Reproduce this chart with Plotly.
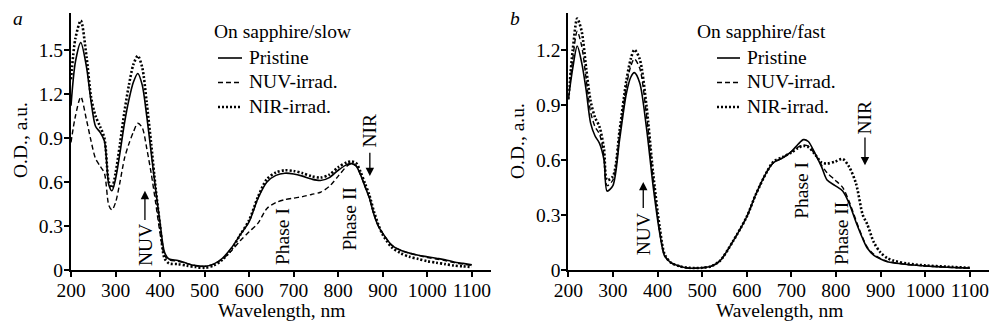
import plotly.graph_objects as go

# ---------------- data: panel a (On sapphire/slow) ----------------
wl_a = [200, 210, 222, 235, 245, 255, 265, 275, 285, 292, 300, 310, 320, 330, 340, 350, 360, 370, 380, 390,
        400, 410, 420, 440, 460, 480, 500, 520, 540, 560, 580, 600, 620, 640, 660, 680, 700, 720, 740, 760,
        780, 800, 820, 830, 840, 850, 860, 870, 880, 890, 900, 920, 940, 960, 980, 1000, 1020, 1040, 1060, 1080, 1100]
pristine_a = [1.12, 1.42, 1.55, 1.38, 1.15, 0.98, 0.94, 0.88, 0.58, 0.54, 0.62, 0.80, 1.00, 1.16, 1.28, 1.34, 1.26, 1.05, 0.80, 0.55,
              0.32, 0.12, 0.075, 0.065, 0.045, 0.03, 0.025, 0.04, 0.08, 0.15, 0.24, 0.33, 0.49, 0.60, 0.645, 0.66, 0.655, 0.64, 0.62, 0.61,
              0.63, 0.68, 0.72, 0.725, 0.71, 0.65, 0.57, 0.49, 0.38, 0.30, 0.25, 0.17, 0.135, 0.115, 0.10, 0.09, 0.08, 0.07, 0.055, 0.045, 0.035]
nuv_a = [0.87, 1.05, 1.18, 1.02, 0.88, 0.76, 0.71, 0.66, 0.44, 0.41, 0.46, 0.60, 0.76, 0.86, 0.94, 1.00, 0.97, 0.83, 0.66, 0.46,
         0.25, 0.10, 0.07, 0.06, 0.045, 0.03, 0.025, 0.04, 0.075, 0.13, 0.20, 0.26, 0.32, 0.42, 0.46, 0.48, 0.49, 0.50, 0.515, 0.53,
         0.57, 0.64, 0.71, 0.725, 0.71, 0.65, 0.57, 0.49, 0.38, 0.30, 0.25, 0.17, 0.135, 0.115, 0.10, 0.085, 0.075, 0.065, 0.05, 0.04, 0.03]
nir_a = [1.30, 1.58, 1.70, 1.45, 1.18, 1.05, 0.98, 0.90, 0.60, 0.56, 0.66, 0.86, 1.08, 1.26, 1.40, 1.46, 1.38, 1.14, 0.86, 0.56,
         0.30, 0.08, 0.045, 0.04, 0.03, 0.02, 0.015, 0.03, 0.07, 0.14, 0.24, 0.34, 0.50, 0.62, 0.665, 0.68, 0.675, 0.66, 0.64, 0.63,
         0.65, 0.70, 0.735, 0.74, 0.73, 0.67, 0.59, 0.51, 0.40, 0.31, 0.24, 0.155, 0.115, 0.09, 0.075, 0.06, 0.05, 0.04, 0.03, 0.025, 0.02]

# ---------------- data: panel b (On sapphire/fast) ----------------
wl_b = [200, 210, 220, 230, 240, 250, 260, 270, 280, 287, 300, 315, 330, 340, 348, 360, 375, 390, 405, 416,
        430, 450, 470, 500, 520, 540, 570, 600, 620, 645, 660, 680, 700, 715, 727, 738, 753, 768, 780, 798,
        815, 830, 845, 860, 870, 885, 900, 915, 930, 960, 1000, 1050, 1100]
pristine_b = [0.93, 1.10, 1.22, 1.13, 0.98, 0.80, 0.73, 0.69, 0.60, 0.43, 0.46, 0.71, 0.96, 1.05, 1.075, 1.02, 0.78, 0.46, 0.20, 0.075,
              0.04, 0.02, 0.01, 0.012, 0.02, 0.05, 0.16, 0.29, 0.41, 0.535, 0.585, 0.61, 0.645, 0.685, 0.71, 0.70, 0.635, 0.56, 0.49, 0.46,
              0.43, 0.36, 0.26, 0.17, 0.12, 0.08, 0.06, 0.045, 0.038, 0.03, 0.022, 0.015, 0.01]
nuv_b = [0.93, 1.15, 1.30, 1.22, 1.04, 0.86, 0.78, 0.74, 0.62, 0.46, 0.49, 0.74, 1.00, 1.11, 1.15, 1.10, 0.85, 0.50, 0.21, 0.08,
         0.04, 0.02, 0.01, 0.012, 0.02, 0.05, 0.16, 0.29, 0.41, 0.535, 0.585, 0.61, 0.645, 0.67, 0.68, 0.675, 0.63, 0.57, 0.53, 0.49,
         0.45, 0.37, 0.27, 0.175, 0.125, 0.085, 0.062, 0.047, 0.04, 0.03, 0.022, 0.015, 0.01]
nir_b = [0.93, 1.20, 1.37, 1.30, 1.10, 0.92, 0.83, 0.78, 0.66, 0.49, 0.51, 0.76, 1.03, 1.15, 1.20, 1.15, 0.90, 0.53, 0.23, 0.085,
         0.04, 0.02, 0.012, 0.012, 0.02, 0.05, 0.16, 0.29, 0.41, 0.535, 0.59, 0.615, 0.64, 0.665, 0.676, 0.67, 0.63, 0.585, 0.58, 0.59,
         0.605, 0.56, 0.47, 0.30, 0.25, 0.15, 0.095, 0.065, 0.05, 0.035, 0.025, 0.018, 0.012]

series_names = ["Pristine", "NUV-irrad.", "NIR-irrad."]
x_ticks = [200, 300, 400, 500, 600, 700, 800, 900, 1000, 1100]
y_ticks_a = [0, 0.3, 0.6, 0.9, 1.2, 1.5]
y_ticks_b = [0, 0.3, 0.6, 0.9, 1.2]
y_labels_a = ["0", "0.3", "0.6", "0.9", "1.2", "1.5"]
y_labels_b = ["0", "0.3", "0.6", "0.9", "1.2"]
titles = ["On sapphire/slow", "On sapphire/fast"]

FONT = "Liberation Serif"
FS = 19.5
W, H = 1000, 326

styles = {
    "Pristine": dict(dash="solid", width=1.6),
    "NUV-irrad.": dict(dash="5px,3px", width=1.4),
    "NIR-irrad.": dict(dash="2px,2px", width=2.6),
}

fig = go.Figure()
panels = [
    ("x", "y", wl_a, [pristine_a, nuv_a, nir_a]),
    ("x2", "y2", wl_b, [pristine_b, nuv_b, nir_b]),
]
for xa, ya, wl, ys in panels:
    for name, y in zip(series_names, ys):
        fig.add_trace(go.Scatter(
            x=wl, y=y, mode="lines", name=name, xaxis=xa, yaxis=ya, showlegend=False,
            line=dict(color="black", shape="spline", smoothing=0.8, **styles[name]),
            hoverinfo="skip"))

def px_x(p):
    return p / W

def px_y(p):
    return 1 - p / H

y_dom = [px_y(270), px_y(13)]
axis_common = dict(showline=True, linecolor="black", linewidth=2, ticks="outside", ticklen=5,
                   tickwidth=1.5, tickcolor="black", showgrid=False, zeroline=False, automargin=False,
                   tickfont=dict(family=FONT, size=FS, color="black"))

fig.update_layout(
    width=W, height=H, margin=dict(l=0, r=0, t=0, b=0, autoexpand=False),
    paper_bgcolor="white", plot_bgcolor="white", showlegend=False,
    font=dict(family=FONT, size=FS, color="black"),
    xaxis=dict(domain=[px_x(71), px_x(491)], range=[200, 1143], tickvals=x_ticks, anchor="y",
               ticklabelstandoff=-3, **axis_common),
    yaxis=dict(domain=y_dom, range=[0, 1.752], tickvals=y_ticks_a, ticktext=y_labels_a, anchor="x",
               ticklabelstandoff=-3, **axis_common),
    xaxis2=dict(domain=[px_x(568.3), px_x(989)], range=[200, 1143], tickvals=x_ticks, anchor="y2",
                ticklabelstandoff=-3, **axis_common),
    yaxis2=dict(domain=y_dom, range=[0, 1.40], tickvals=y_ticks_b, ticktext=y_labels_b, anchor="x2",
                ticklabelstandoff=-3, **axis_common),
)

ann = []
shapes = []

def text_paper(x, y, t, angle=0, xanchor="center"):
    ann.append(dict(x=px_x(x), y=px_y(y), xref="paper", yref="paper", text=t, showarrow=False,
                    textangle=angle, xanchor=xanchor, yanchor="middle",
                    font=dict(family=FONT, size=FS, color="black")))

# panel letters and axis titles
text_paper(18, 18, "<i>a</i>")
text_paper(515, 18, "<i>b</i>")
text_paper(20, 140, "O.D., a.u.", -90)
text_paper(518, 141, "O.D., a.u.", -90)
text_paper(281, 310, "Wavelength, nm")
text_paper(779, 310, "Wavelength, nm")

# hand-drawn legends (title + line samples + labels)
legend_pos = [(212, 218, 242, 247, titles[0]), (695, 717, 740, 745, titles[1])]
row_y = [57, 81.5, 106]
for tx, lx0, lx1, txt_x, title in legend_pos:
    text_paper(tx, 32, title, xanchor="left")
    for name, ry in zip(series_names, row_y):
        st = styles[name]
        shapes.append(dict(type="line", xref="paper", yref="paper",
                           x0=px_x(lx0), x1=px_x(lx1), y0=px_y(ry + 1), y1=px_y(ry + 1),
                           line=dict(color="black", width=st["width"], dash=st["dash"])))
        text_paper(txt_x, ry, name, xanchor="left")

def text_data(xr, yr, x, y, t):
    ann.append(dict(x=x, y=y, xref=xr, yref=yr, text=t, showarrow=False, textangle=-90,
                    xanchor="center", yanchor="middle", font=dict(family=FONT, size=FS, color="black")))

def arrow(xr, yr, x, y0, y1):
    ann.append(dict(x=x, y=y1, ax=x, ay=y0, xref=xr, yref=yr, axref=xr, ayref=yr, text="",
                    showarrow=True, arrowhead=2, arrowsize=1.3, arrowwidth=1.3, arrowcolor="black"))

# panel a labels
text_data("x", "y", 366, 0.17, "NUV")
arrow("x", "y", 366, 0.33, 0.54)
text_data("x", "y", 676, 0.225, "Phase I")
text_data("x", "y", 826, 0.35, "Phase II")
text_data("x", "y", 871, 0.95, "NIR")
arrow("x", "y", 871, 0.81, 0.64)
# panel b labels
text_data("x2", "y2", 368, 0.196, "NUV")
arrow("x2", "y2", 368, 0.33, 0.48)
text_data("x2", "y2", 723, 0.435, "Phase I")
text_data("x2", "y2", 813, 0.20, "Phase II")
text_data("x2", "y2", 865, 0.83, "NIR")
arrow("x2", "y2", 865, 0.73, 0.57)

fig.update_layout(annotations=ann, shapes=shapes)
fig.write_html("out.html")
